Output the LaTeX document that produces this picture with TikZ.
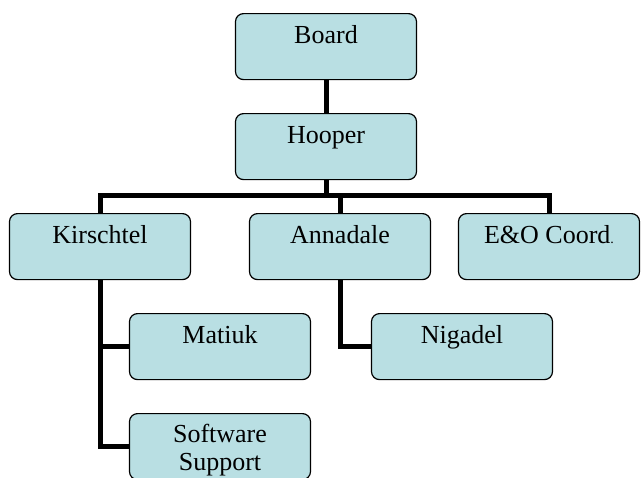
\documentclass[tikz,border=0pt]{standalone}
\usepackage{fontspec}
\setmainfont{Liberation Serif}
\usepackage{tikz}
\usetikzlibrary{backgrounds}
\definecolor{unitfill}{RGB}{185,223,227}

\begin{document}
\begin{tikzpicture}[x=1pt, y=-1pt,
unit/.style={draw, line width=1.2pt, rounded corners=8pt, fill=unitfill,
    minimum width=181pt, inner xsep=0pt, inner ysep=0pt, text height=30pt,
    text depth=36pt, align=center, anchor=north,
    font=\fontsize{26}{28.5}\selectfont},
twoline/.style={text height=57pt, text depth=9pt},
link/.style={line width=5pt}]
\useasboundingbox (0,0) rectangle (642,477);
\clip (0,0) rectangle (642,477);
\node[unit] (board) at (326,13) {Board};
\node[unit] (hooper) at (326,113) {Hooper};
\node[unit] (kirschtel) at (100,213) {Kirschtel};
\node[unit] (annadale) at (340,213) {Annadale};
\node[unit] (eo) at (549,213) {E\&O Coord{\fontsize{14}{14}\selectfont .}};
\node[unit] (matiuk) at (220,313) {Matiuk};
\node[unit] (nigadel) at (462,313) {Nigadel};
\node[unit, twoline] (software) at (220,413) {Software\\Support};
\coordinate (bus) at ([yshift=-15pt]hooper.south);
\begin{scope}[on background layer]
\draw[link] (board.south) -- (hooper.north);
\draw[link] (hooper.south) -- (bus) -| (kirschtel.north);
\draw[link] (bus) -| (annadale.north);
\draw[link] (bus) -| (eo.north);
\draw[link] (kirschtel.south) |- (matiuk.west);
\draw[link] (kirschtel.south) |- (software.west);
\draw[link] (annadale.south) |- (nigadel.west);
\end{scope}
\end{tikzpicture}
\end{document}
